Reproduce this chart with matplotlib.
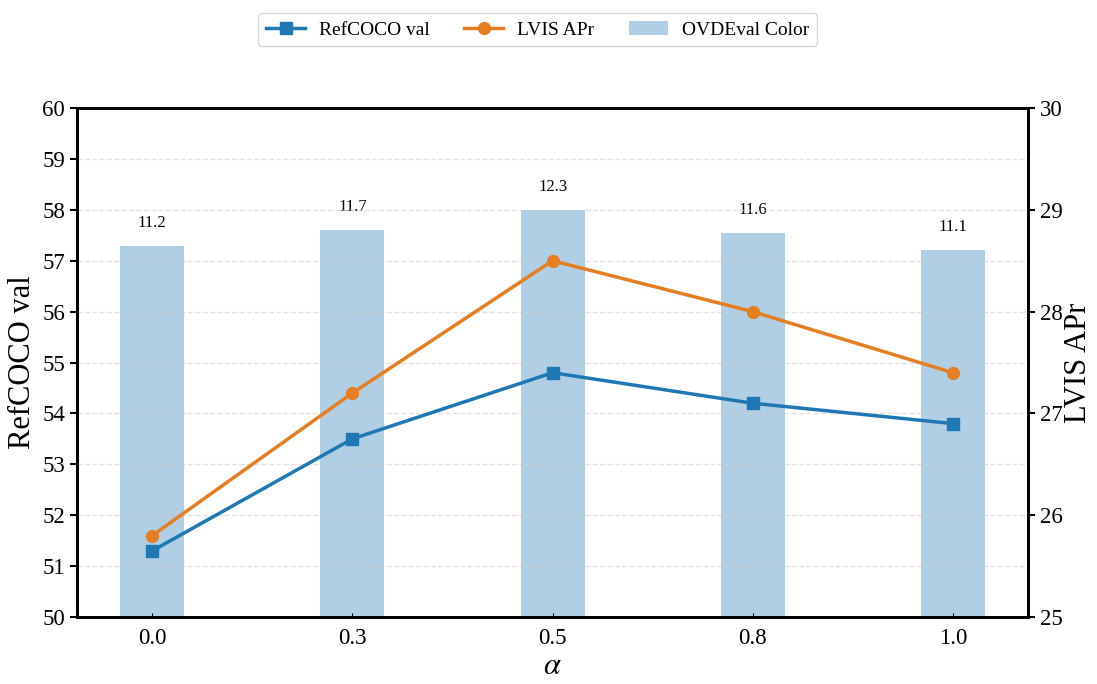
import matplotlib
matplotlib.use("Agg")
import matplotlib.pyplot as plt
import numpy as np

plt.rcParams['font.family'] = ['Liberation Serif', 'DejaVu Serif']
plt.rcParams['mathtext.fontset'] = 'stix'

alpha_labels = ['0.0', '0.3', '0.5', '0.8', '1.0']
refcoco_val = [51.3, 53.5, 54.8, 54.2, 53.8]
lvis_apr = [25.8, 27.2, 28.5, 28.0, 27.4]
ovdeval_color = [11.2, 11.7, 12.3, 11.6, 11.1]

blue = '#1f77b4'
orange = '#e67e22'

fig = plt.figure(figsize=(10.97, 6.84), dpi=100)
ax = fig.add_axes([0.0702, 0.098, 0.867, 0.744])
x = np.arange(len(alpha_labels))

ax3 = ax.twinx()
ax3.bar(x, ovdeval_color, width=0.32, color=blue, alpha=0.35, label='OVDEval Color', zorder=1)
ax3.set_ylim(0, max(ovdeval_color) * 1.25)
ax3.set_yticks([])
for s in ax3.spines.values():
    s.set_visible(False)
for xi, v in zip(x, ovdeval_color):
    ax3.text(xi, v + 0.45, f'{v}', ha='center', va='bottom', fontsize=12)

ax2 = ax.twinx()
l2, = ax2.plot(x, lvis_apr, color=orange, marker='o', markersize=8.5, linewidth=2.5, label='LVIS APr', zorder=3)
ax2.set_ylim(25, 30)
ax2.set_ylabel('LVIS APr', fontsize=22, labelpad=1)
ax2.tick_params(axis='y', labelsize=16.5, width=1.5, length=5)

ax.set_zorder(3)
ax.patch.set_visible(False)
ax2.set_zorder(4)
ax2.patch.set_visible(False)
l1, = ax.plot(x, refcoco_val, color=blue, marker='s', markersize=8, linewidth=2.5, label='RefCOCO val', zorder=3)
ax.set_ylim(50, 60)
ax.set_yticks(np.arange(50, 61, 1))
ax.set_ylabel('RefCOCO val', fontsize=22)
ax.set_xlabel(r'$\alpha$', fontsize=22, labelpad=2)
ax.set_xticks(x)
ax.set_xticklabels(alpha_labels)
ax.tick_params(axis='x', labelsize=16.5, length=3, direction='in', pad=8)
ax.tick_params(axis='y', labelsize=16.5, width=1.5, length=5)
ax.grid(axis='y', linestyle='--', color='#cccccc', alpha=0.6, linewidth=1)
ax.set_xlim(-0.376, 4.376)

for a in (ax, ax2):
    for s in a.spines.values():
        s.set_linewidth(2)

handles = [l1, l2, ax3.patches[0]]
fig.legend(handles, ['RefCOCO val', 'LVIS APr', 'OVDEval Color'], loc='upper center',
           bbox_to_anchor=(0.49, 0.995), ncol=3, fontsize=14, frameon=True,
           columnspacing=1.8, handlelength=2.0, handletextpad=0.7)

fig.savefig('out.png', dpi=100)
